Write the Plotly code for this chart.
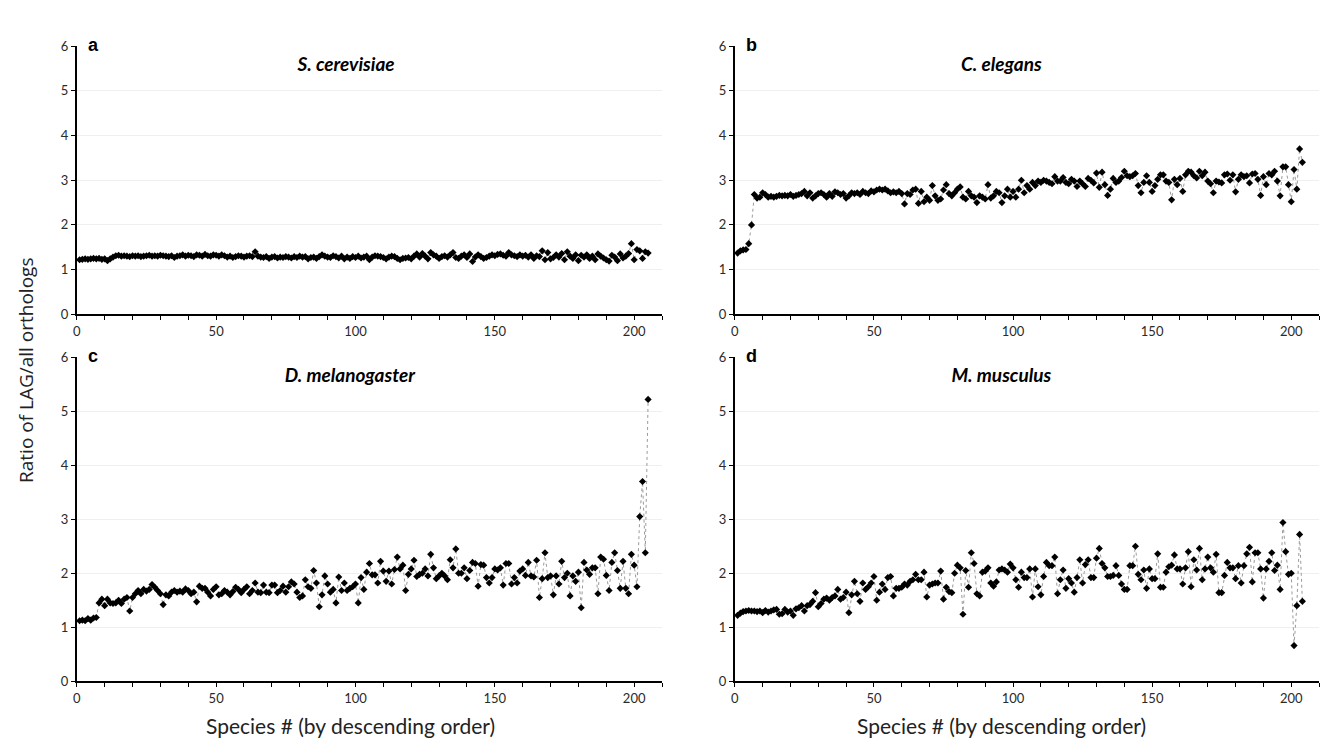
import plotly.graph_objects as go

# ---------------- data ----------------
S_CEREVISIAE = [
    1.22, 1.23, 1.24, 1.23, 1.24, 1.25, 1.24, 1.25, 1.23, 1.24,
    1.20, 1.24, 1.28, 1.31, 1.32, 1.30, 1.31, 1.30, 1.29, 1.31,
    1.30, 1.31, 1.29, 1.30, 1.31, 1.32, 1.30, 1.31, 1.30, 1.32,
    1.31, 1.30, 1.29, 1.31, 1.27, 1.30, 1.31, 1.33, 1.30, 1.32,
    1.31, 1.29, 1.33, 1.32, 1.30, 1.34, 1.31, 1.30, 1.33, 1.32,
    1.30, 1.33, 1.31, 1.28, 1.30, 1.27, 1.29, 1.31, 1.30, 1.28,
    1.30, 1.31, 1.29, 1.40, 1.30, 1.28, 1.27, 1.29, 1.25, 1.28,
    1.29, 1.26, 1.28, 1.27, 1.29, 1.28, 1.26, 1.29, 1.27, 1.30,
    1.28, 1.29, 1.24, 1.27, 1.28, 1.25, 1.29, 1.33, 1.30, 1.28,
    1.27, 1.31, 1.29, 1.26, 1.30, 1.24, 1.28, 1.25, 1.29, 1.27,
    1.30, 1.26, 1.28, 1.30, 1.22, 1.28, 1.31, 1.30, 1.29, 1.27,
    1.24, 1.28, 1.30, 1.29, 1.25, 1.22, 1.25, 1.26, 1.27, 1.24,
    1.30, 1.35, 1.28, 1.36, 1.30, 1.24, 1.38, 1.33, 1.30, 1.25,
    1.29, 1.31, 1.28, 1.33, 1.38, 1.27, 1.25, 1.30, 1.33, 1.27,
    1.35, 1.18, 1.28, 1.33, 1.29, 1.25, 1.27, 1.30, 1.33, 1.31,
    1.34, 1.35, 1.32, 1.30, 1.38, 1.33, 1.31, 1.29, 1.33, 1.30,
    1.32, 1.28, 1.33, 1.25, 1.31, 1.29, 1.42, 1.22, 1.38, 1.24,
    1.27, 1.33, 1.28, 1.36, 1.22, 1.40, 1.30, 1.25, 1.33, 1.20,
    1.32, 1.28, 1.33, 1.25, 1.30, 1.22, 1.35, 1.30, 1.26, 1.22,
    1.19, 1.32, 1.28, 1.20, 1.35, 1.26, 1.30, 1.36, 1.58, 1.22,
    1.45, 1.42, 1.25, 1.40, 1.37,
]

C_ELEGANS = [
    1.37, 1.42, 1.44, 1.45, 1.58, 2.00, 2.68, 2.60, 2.62, 2.72,
    2.68, 2.62, 2.64, 2.62, 2.64, 2.66, 2.65, 2.66, 2.65, 2.68,
    2.64, 2.66, 2.68, 2.70, 2.75, 2.65, 2.72, 2.60, 2.65, 2.70,
    2.72, 2.68, 2.62, 2.70, 2.64, 2.74, 2.72, 2.68, 2.70, 2.60,
    2.65, 2.72, 2.70, 2.72, 2.68, 2.75, 2.72, 2.70, 2.76, 2.74,
    2.78, 2.80, 2.78, 2.80, 2.76, 2.72, 2.74, 2.72, 2.75, 2.70,
    2.47, 2.70, 2.68, 2.78, 2.80, 2.48, 2.75, 2.52, 2.62, 2.55,
    2.88, 2.65, 2.55, 2.58, 2.78, 2.90, 2.70, 2.65, 2.72, 2.80,
    2.85, 2.62, 2.58, 2.75, 2.65, 2.62, 2.50, 2.65, 2.62, 2.58,
    2.90, 2.60, 2.65, 2.75, 2.72, 2.50, 2.65, 2.80, 2.62, 2.75,
    2.62, 2.80, 3.00, 2.72, 2.88, 2.80, 2.95, 2.88, 2.98, 2.95,
    3.00, 2.98, 2.95, 2.92, 3.08, 2.98, 2.98, 3.06, 2.95, 2.92,
    3.02, 2.98, 2.86, 2.98, 2.92, 2.86, 3.04, 3.00, 2.94, 3.16,
    2.84, 3.18, 2.90, 2.66, 2.80, 3.04, 2.95, 2.98, 3.06, 3.20,
    3.10, 3.08, 3.10, 3.15, 2.88, 2.72, 2.95, 3.10, 2.95, 2.75,
    2.88, 3.02, 3.12, 3.12, 2.98, 2.95, 2.56, 3.02, 2.90, 3.04,
    2.75, 3.12, 3.20, 3.18, 3.10, 3.05, 3.20, 3.10, 3.18, 2.98,
    2.92, 2.72, 2.98, 2.96, 2.94, 3.12, 3.14, 3.00, 3.12, 2.74,
    3.02, 3.12, 3.08, 3.10, 2.94, 3.14, 3.15, 3.02, 2.66, 3.08,
    2.90, 3.15, 3.12, 3.20, 2.98, 2.65, 3.30, 3.30, 2.90, 2.52,
    3.24, 2.80, 3.70, 3.40,
]

D_MELANOGASTER = [
    1.12, 1.13, 1.12, 1.16, 1.13, 1.17, 1.18, 1.45, 1.52, 1.40,
    1.52, 1.45, 1.44, 1.45, 1.50, 1.44, 1.52, 1.55, 1.30, 1.55,
    1.62, 1.68, 1.62, 1.70, 1.67, 1.70, 1.79, 1.74, 1.68, 1.62,
    1.42, 1.60, 1.58, 1.65, 1.68, 1.65, 1.67, 1.65, 1.71, 1.68,
    1.62, 1.65, 1.47, 1.76, 1.72, 1.72, 1.65, 1.58, 1.70, 1.75,
    1.60, 1.62, 1.68, 1.65, 1.60, 1.66, 1.74, 1.70, 1.64, 1.70,
    1.75, 1.62, 1.68, 1.82, 1.65, 1.64, 1.78, 1.65, 1.64, 1.78,
    1.78, 1.64, 1.68, 1.76, 1.65, 1.75, 1.84, 1.80, 1.65, 1.55,
    1.58, 1.88, 1.75, 1.72, 2.05, 1.82, 1.38, 1.60, 1.95, 1.80,
    1.65, 1.70, 1.45, 1.93, 1.68, 1.82, 1.68, 1.72, 1.75, 1.80,
    1.45, 1.92, 1.70, 2.02, 2.18, 1.97, 1.97, 1.82, 2.22, 2.04,
    1.85, 2.04, 1.80, 2.07, 2.30, 2.08, 2.15, 1.68, 1.98, 2.08,
    2.24, 1.94, 1.98, 2.00, 2.08, 1.95, 2.35, 2.10, 1.90, 1.95,
    2.00, 1.95, 1.88, 2.25, 2.10, 2.45, 2.00, 2.00, 2.10, 1.90,
    2.05, 2.20, 2.18, 1.76, 2.16, 2.15, 1.92, 1.82, 1.92, 2.08,
    2.06, 2.10, 1.78, 2.18, 2.18, 1.80, 1.92, 1.82, 2.04, 2.08,
    1.96, 2.20, 1.95, 1.93, 2.24, 1.55, 1.90, 2.38, 1.92, 1.95,
    1.60, 1.95, 1.80, 2.22, 1.92, 2.00, 1.58, 1.95, 1.85, 2.02,
    1.36, 2.20, 2.06, 1.98, 2.10, 2.10, 1.62, 2.30, 2.26, 1.96,
    1.68, 2.20, 2.38, 2.05, 1.72, 2.22, 1.72, 1.62, 2.35, 2.15,
    1.75, 3.05, 3.70, 2.38, 5.22,
]

M_MUSCULUS = [
    1.22, 1.26, 1.29, 1.30, 1.31, 1.30, 1.30, 1.29, 1.30, 1.27,
    1.31, 1.28, 1.30, 1.32, 1.33, 1.24, 1.25, 1.33, 1.28, 1.30,
    1.22, 1.34, 1.36, 1.40, 1.30, 1.40, 1.42, 1.48, 1.64, 1.38,
    1.44, 1.52, 1.54, 1.50, 1.55, 1.58, 1.70, 1.52, 1.55, 1.65,
    1.27, 1.60, 1.85, 1.62, 1.48, 1.82, 1.70, 1.75, 1.82, 1.94,
    1.50, 1.65, 1.80, 1.70, 1.92, 1.94, 1.58, 1.72, 1.72, 1.74,
    1.80, 1.78, 1.85, 1.88, 1.98, 1.88, 1.88, 2.02, 1.56, 1.78,
    1.80, 1.82, 1.82, 2.04, 1.52, 1.74, 1.66, 1.64, 2.00, 2.15,
    2.10, 1.24, 2.05, 1.74, 2.38, 2.18, 1.62, 1.58, 2.02, 2.04,
    2.10, 1.82, 1.76, 1.84, 2.06, 2.08, 2.06, 2.02, 2.17, 2.10,
    1.88, 1.74, 2.02, 1.92, 1.92, 2.08, 1.56, 2.08, 1.75, 1.60,
    1.94, 2.20, 2.14, 2.14, 2.30, 1.62, 1.88, 2.06, 1.72, 1.90,
    1.82, 1.65, 1.92, 2.25, 1.82, 2.16, 2.25, 1.92, 1.92, 2.28,
    2.46, 2.18, 2.10, 1.94, 1.94, 1.96, 2.14, 1.96, 1.80, 1.70,
    1.70, 2.14, 2.14, 2.50, 1.98, 1.88, 2.06, 1.72, 2.08, 1.90,
    1.90, 2.36, 1.74, 1.74, 2.02, 2.12, 2.15, 2.34, 2.08, 2.08,
    1.80, 2.10, 2.40, 1.75, 2.25, 2.06, 2.46, 1.88, 2.08, 2.30,
    2.10, 2.02, 2.35, 1.64, 1.64, 1.96, 2.20, 2.10, 2.10, 1.90,
    2.14, 1.82, 2.14, 2.36, 2.48, 1.84, 2.38, 2.38, 2.08, 1.54,
    2.08, 2.22, 2.38, 2.05, 2.15, 1.70, 2.94, 2.40, 1.98, 2.00,
    0.66, 1.40, 2.72, 1.48,
]

PANEL_LETTERS = ["a", "b", "c", "d"]
PANEL_TITLES = ["S. cerevisiae", "C. elegans", "D. melanogaster", "M. musculus"]
SERIES = [S_CEREVISIAE, C_ELEGANS, D_MELANOGASTER, M_MUSCULUS]

X_TICKS = [0, 10, 20, 30, 40, 50, 60, 70, 80, 90, 100,
           110, 120, 130, 140, 150, 160, 170, 180, 190, 200, 210]
X_TICK_LABELS = ["0", "", "", "", "", "50", "", "", "", "", "100",
                 "", "", "", "", "150", "", "", "", "", "200", ""]
Y_TICKS = [0, 1, 2, 3, 4, 5, 6]
Y_TICK_LABELS = ["0", "1", "2", "3", "4", "5", "6"]

X_TITLE = "Species # (by descending order)"
Y_TITLE = "Ratio of LAG/all orthologs"

# ---------------- layout geometry (pixels) ----------------
W, H = 1343, 744
# (left, right, top, bottom) of each plotting area in pixels
BOXES = [(73, 660, 39, 313), (733, 1319, 39, 313),
         (73, 660, 357, 688), (733, 1319, 357, 688)]
TITLE_X = [343, 1000, 348, 1000]


def fx(p):
    return p / W


def fy(p):
    return 1 - p / H


TICK_FONT = dict(family="Lato, Carlito, sans-serif", size=13, color="#2a2a2a")

fig = go.Figure()
layout = dict(
    width=W, height=H,
    margin=dict(l=0, r=0, t=0, b=0),
    paper_bgcolor="white", plot_bgcolor="white",
    showlegend=False,
    annotations=[],
)

for i, (vals, box) in enumerate(zip(SERIES, BOXES)):
    n = i + 1
    sfx = "" if n == 1 else str(n)
    xs = list(range(1, len(vals) + 1))
    fig.add_trace(go.Scatter(
        x=xs, y=vals, mode="lines+markers",
        xaxis="x" + sfx, yaxis="y" + sfx,
        line=dict(color="#9a9a9a", width=1, dash="dot"),
        marker=dict(symbol="diamond", size=5.5, color="black"),
        hoverinfo="x+y",
    ))
    l, r, t, b = box
    layout["xaxis" + sfx] = dict(
        domain=[fx(l), fx(r)], anchor="y" + sfx, range=[0, 210],
        tickmode="array", tickvals=X_TICKS, ticktext=X_TICK_LABELS,
        ticks="outside", ticklen=4, tickwidth=1.2, tickcolor="black",
        showline=True, linecolor="black", linewidth=1.8,
        showgrid=False, zeroline=False, tickfont=TICK_FONT,
    )
    if i >= 2:
        layout["annotations"].append(dict(
            xref="paper", yref="paper", x=fx(TITLE_X[i] + 0), y=fy(b + 45),
            text=X_TITLE, showarrow=False, xanchor="center", yanchor="middle",
            font=dict(family="Lato, Carlito, sans-serif", size=21, color="#222222"),
        ))
    layout["yaxis" + sfx] = dict(
        domain=[fy(b), fy(t)], anchor="x" + sfx, range=[0, 6],
        tickmode="array", tickvals=Y_TICKS, ticktext=Y_TICK_LABELS,
        ticks="outside", ticklen=4, tickwidth=1.2, tickcolor="black",
        showline=True, linecolor="black", linewidth=1.8,
        showgrid=True, gridcolor="#efefef", gridwidth=1,
        zeroline=False, tickfont=TICK_FONT,
    )
    # species title with white box covering the top gridline
    layout["annotations"].append(dict(
        xref="paper", yref="paper", x=fx(TITLE_X[i]), y=fy(t + 18),
        text="<b><i>" + PANEL_TITLES[i] + "</i></b>", showarrow=False,
        xanchor="center", yanchor="middle", bgcolor="white", width=165,
        borderpad=6,
        font=dict(family="Lato, Carlito, sans-serif", size=19, color="black"),
    ))
    # panel letter
    layout["annotations"].append(dict(
        xref="paper", yref="paper", x=fx(l + 9), y=fy(t - 1),
        text="<b>" + PANEL_LETTERS[i] + "</b>", showarrow=False,
        xanchor="left", yanchor="middle",
        font=dict(family="Liberation Sans, Arial, sans-serif", size=18, color="black"),
    ))

layout["annotations"].append(dict(
    xref="paper", yref="paper", x=fx(22), y=fy(370),
    text=Y_TITLE, showarrow=False, textangle=-90,
    xanchor="center", yanchor="middle",
    font=dict(family="Open Sans, sans-serif", size=19, color="#222222"),
))

fig.update_layout(**layout)
fig.write_html("out.html")
